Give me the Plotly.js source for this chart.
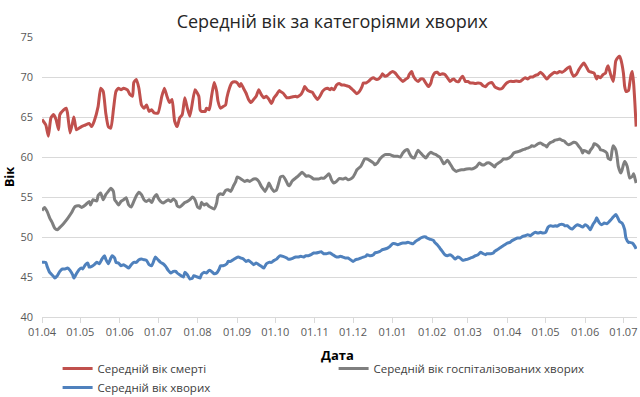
<!DOCTYPE html>
<html>
<head>
<meta charset="utf-8">
<script src="https://cdn.plot.ly/plotly-3.0.1.min.js"></script>
<style>html,body{margin:0;padding:0;background:#fff;}#chart{width:640px;height:397px;}</style>
</head>
<body>
<div id="chart"></div>
<script>
// Day offsets are counted from the first date of the series
const startDate = '2020-04-01';

const seriesNames = ['Середній вік смерті', 'Середній вік госпіталізованих хворих', 'Середній вік хворих'];
const xTitle = 'Дата';
const yTitle = 'Вік';
const chartTitle = 'Середній вік за категоріями хворих';

const redDays = [0,3,5,7,9,11,13,14,17,19,20,22,24,25,27,29,31,34,37,39,41,44,46,48,50,52,54,56,58,60,62,64,67,69,71,72,74,76,78,80,82,84,86,88,91,94,96,98,100,102,104,106,108,110,112,114,116,120,123,124,125,128,129,131,132,133,135,137,138,140,142,144,145,147,149,151,153,155,156,158,160,162,164,166,168,170,172,174,176,178,180,182,184,186,187,189,192,193,196,199,200,203,205,206,208,210,212,214,216,218,220,222,224,226,227,229,231,233,235,237,239,241,243,245,247,249,251,252,254,256,258,260,262,264,266,267,269,271,273,275,277,279,281,283,285,287,288,290,291,293,295,297,299,301,303,305,306,308,310,312,314,316,318,320,322,323,325,327,328,330,332,334,336,338,340,342,344,346,348,349,351,353,355,357,359,361,363,365,367,370,372,375,377,379,381,383,385,387,389,391,393,395,396,398,401,402,404,406,408,410,412,414,415,417,419,421,423,425,427,429,431,433,435,436,438,440,442,443,444,446,448,449,450,452,453,454,456,457,458,460,461,462,463,464,465,466];
const redVals = [64.7,64.0,62.6,64.9,65.3,64.7,63.4,65.3,65.9,66.1,65.5,63.0,64.3,65.0,63.4,63.6,63.8,64.0,64.2,63.8,64.5,66.3,68.6,68.2,65.5,63.8,63.6,65.9,68.2,68.6,68.4,68.6,68.4,67.8,67.6,69.3,69.7,68.6,66.5,66.1,66.5,65.7,65.9,65.5,65.5,67.6,68.6,67.6,66.8,67.2,64.5,63.8,64.9,65.3,67.4,66.1,65.1,68.4,67.6,65.9,65.7,65.7,66.1,65.9,66.5,67.6,69.3,68.2,67.0,66.1,66.3,66.5,67.4,68.6,69.3,69.4,69.3,68.8,69.2,68.6,68.0,67.2,66.8,67.2,67.6,68.4,67.8,67.4,67.6,67.2,66.7,67.4,67.8,68.3,68.2,68.0,67.4,67.4,67.5,67.6,67.5,67.8,68.4,68.8,68.4,68.2,68.1,67.6,67.2,67.6,68.2,68.5,68.6,68.4,68.6,68.4,69.0,69.2,69.0,69.0,68.9,68.8,68.5,68.2,67.9,68.2,68.8,69.25,69.25,69.45,69.75,69.9,69.7,69.75,70.1,70.4,70.1,70.2,70.5,70.7,70.5,70.1,69.75,69.45,69.7,69.9,70.3,70.7,70.2,69.7,69.45,69.75,69.75,69.25,68.8,69.25,69.9,70.5,70.6,70.3,70.4,70.3,69.9,69.45,69.7,69.75,69.45,69.45,69.75,70.1,69.45,69.45,69.25,69.25,69.2,69.25,69.2,68.9,68.8,69.0,69.25,69.3,68.8,68.6,68.5,68.6,69.0,69.3,69.45,69.45,69.5,69.45,69.7,69.9,69.75,70.0,70.0,70.2,70.3,70.6,70.3,69.9,69.75,70.1,70.5,70.6,70.5,70.7,70.6,70.8,71.1,71.3,70.7,70.1,70.3,70.9,71.4,71.75,71.25,70.7,70.6,70.5,69.75,70.1,69.9,70.3,70.5,71.1,71.4,70.3,69.45,70.5,72.0,72.5,72.6,72.2,70.5,68.8,68.2,68.3,69.25,70.3,70.7,69.25,66.75,63.8];

const grayDays = [0,2,4,6,8,10,12,14,17,20,23,26,29,31,34,37,38,40,43,44,46,48,50,52,54,56,57,58,60,62,64,66,68,70,72,74,76,78,80,82,84,86,88,90,91,93,95,97,99,101,103,105,106,108,110,112,114,116,118,120,122,124,125,127,129,131,132,135,137,138,140,142,144,146,148,150,152,153,155,157,159,161,163,165,166,168,170,172,174,175,177,178,180,182,184,186,187,189,191,193,194,196,198,200,202,204,206,207,209,211,213,215,217,219,221,223,225,226,227,229,231,233,236,238,240,242,244,246,247,250,252,253,255,257,260,261,263,265,267,269,271,273,275,277,279,281,283,285,287,288,290,292,294,295,297,299,301,303,305,307,309,311,312,314,315,316,318,320,322,323,325,327,329,331,333,335,337,339,341,343,345,347,349,351,353,355,356,358,360,362,364,366,368,370,372,374,376,377,379,381,383,384,386,388,389,391,393,395,396,397,399,401,402,404,406,408,410,411,413,415,417,419,421,423,424,425,427,429,430,432,433,435,437,438,440,443,444,446,447,448,450,451,452,454,455,456,457,459,460,461,463,464,465,466];
const grayVals = [53.3,53.7,53.2,52.4,51.8,51.1,50.9,51.2,51.7,52.3,53.0,53.8,53.9,53.7,54.0,54.45,54.0,54.66,54.5,55.2,55.5,54.66,55.3,55.7,56.1,55.7,54.66,54.45,54.0,54.45,54.66,54.9,54.0,53.75,54.45,55.16,55.6,55.3,54.66,54.45,54.66,54.3,55.0,55.3,54.9,54.45,54.25,54.45,54.66,54.45,54.75,54.45,53.9,53.75,54.0,54.3,54.45,54.66,55.0,54.66,53.75,53.6,54.33,54.0,54.16,53.83,53.75,53.5,54.25,55.16,55.4,55.3,55.83,55.9,55.7,56.33,56.95,57.5,57.37,57.16,56.95,57.08,56.95,57.16,57.25,57.25,56.95,56.33,55.9,55.7,56.33,56.75,56.1,55.7,55.9,56.95,57.5,57.6,57.16,56.5,56.4,56.95,57.25,57.5,57.8,58.1,57.8,57.6,57.66,57.5,57.25,57.25,57.25,57.37,57.33,57.6,57.9,57.6,57.16,56.75,56.95,57.3,57.25,57.37,57.16,57.25,57.5,58.08,58.41,58.83,59.45,59.75,59.75,59.58,59.25,59.03,59.25,59.75,60.08,60.3,60.3,60.3,60.16,60.08,60.08,60.0,60.5,60.83,60.91,60.5,60.0,59.87,60.58,60.83,60.5,60.16,59.87,60.3,60.58,60.41,60.3,60.08,60.0,59.45,59.16,59.25,59.58,59.16,58.62,58.41,58.2,58.33,58.41,58.41,58.5,58.54,58.5,58.62,58.83,59.25,59.03,59.03,59.25,59.25,59.03,58.74,59.03,59.25,59.45,59.75,59.75,59.87,60.08,60.5,60.62,60.7,60.83,60.91,61.0,61.12,61.24,61.41,61.33,61.54,61.66,61.75,61.54,61.41,61.24,61.54,61.83,61.95,62.08,62.16,62.24,62.08,61.95,61.75,61.54,61.66,61.83,61.75,61.33,60.91,60.5,60.83,60.7,60.5,60.83,61.24,61.66,61.54,61.24,60.91,60.83,60.5,59.87,59.66,60.7,61.41,60.91,60.08,58.83,58.0,58.41,59.03,59.45,58.83,58.0,57.37,57.58,57.91,57.37,56.74];

const blueDays = [0,3,4,6,9,10,12,14,16,18,20,22,24,25,27,29,31,32,34,36,37,39,41,43,45,47,49,50,52,54,55,57,58,60,62,64,66,68,70,72,74,76,78,80,82,84,86,88,89,91,93,95,97,99,101,103,105,106,108,111,112,114,116,118,119,122,124,125,127,129,131,133,135,137,139,140,142,145,146,148,150,152,154,156,158,160,162,164,166,168,170,172,174,176,178,180,182,184,186,187,189,192,193,195,197,199,201,203,205,207,209,211,213,215,217,219,221,223,225,226,228,230,232,234,236,238,240,242,244,246,248,250,252,254,255,257,260,261,263,265,267,269,271,273,275,277,279,281,283,285,287,289,291,293,295,297,299,301,302,304,307,308,310,312,314,316,318,320,322,324,326,328,330,332,334,336,338,340,342,344,346,348,349,352,354,355,357,359,361,363,365,367,369,371,373,375,377,379,381,383,385,387,389,391,393,395,396,397,399,401,403,404,406,409,410,412,414,416,418,420,422,424,426,428,430,432,434,435,437,439,441,443,445,447,448,450,451,453,455,457,458,460,461,463,465,466];
const blueVals = [46.83,46.83,46.33,45.58,45.08,44.87,45.16,45.7,46.0,46.0,46.12,45.83,45.29,44.87,45.41,45.91,46.12,46.0,46.54,46.74,46.24,46.33,46.54,46.83,46.66,47.24,47.66,47.24,46.66,47.37,47.66,47.37,46.83,46.74,46.41,46.54,46.33,46.12,46.54,46.83,46.83,47.16,47.24,47.16,47.08,46.54,46.41,47.16,47.49,47.16,46.83,46.66,46.33,45.83,45.5,45.7,45.7,45.5,45.29,45.0,45.58,45.29,44.74,44.87,45.16,45.0,44.87,45.29,45.58,45.5,45.83,45.7,45.41,45.5,46.0,46.41,46.41,46.66,46.95,46.95,47.16,47.37,47.49,47.37,47.24,46.95,47.08,46.83,46.54,46.74,46.54,46.33,46.12,46.66,46.83,46.83,47.08,47.24,47.58,47.66,47.58,47.37,47.24,47.24,47.37,47.49,47.49,47.58,47.49,47.66,47.66,47.79,48.0,48.0,48.08,48.16,47.91,47.91,48.0,48.0,47.79,47.58,47.49,47.58,47.49,47.37,47.37,47.16,46.95,47.16,47.24,47.37,47.49,47.58,47.79,47.66,47.79,48.0,48.08,48.2,48.41,48.5,48.62,48.83,49.16,49.16,49.04,49.16,49.24,49.24,49.33,49.24,49.16,49.45,49.66,49.87,50.0,50.0,49.87,49.74,49.58,49.33,49.04,48.62,48.2,47.79,47.66,47.79,47.58,47.24,47.49,47.37,47.08,47.16,47.24,47.37,47.49,47.66,47.79,48.08,47.91,47.79,47.91,47.91,48.0,48.2,48.41,48.62,48.83,49.04,49.24,49.33,49.58,49.74,49.87,49.87,50.08,50.16,50.29,50.16,50.41,50.58,50.49,50.58,50.49,50.58,50.91,51.24,51.41,51.33,51.41,51.33,51.54,51.54,51.41,51.41,51.12,51.0,51.33,51.54,51.41,51.24,51.54,51.33,50.91,51.54,52.0,52.4,51.8,51.54,51.74,51.66,51.95,52.3,52.5,52.8,52.6,51.95,51.74,50.91,49.87,49.33,49.33,49.24,48.83,48.5];

const monthTickFormat = '%d.%m';
const axisStart = '2020-04-01';
const axisEnd = '2021-07-11 16:00';

function toDates(days) {
  const t0 = Date.parse(startDate + 'T00:00:00Z');
  return days.map(d => new Date(t0 + d * 86400000).toISOString().slice(0, 10));
}

const FONT = 'Open Sans, Noto Sans, sans-serif';
const mk = (days, vals, name, color) => ({
  x: toDates(days), y: vals, name: name, type: 'scatter', mode: 'lines',
  line: {color: color, width: 3, shape: 'spline', smoothing: 0.5},
  hoverinfo: 'skip'
});

const data = [
  mk(redDays, redVals, seriesNames[0], '#c0504d'),
  mk(grayDays, grayVals, seriesNames[1], '#7f7f7f'),
  mk(blueDays, blueVals, seriesNames[2], '#4f81bd')
];

const layout = {
  width: 640, height: 397,
  margin: {l: 42, r: 3, t: 37, b: 80},
  paper_bgcolor: '#ffffff', plot_bgcolor: '#ffffff',
  font: {family: FONT, color: '#595959', size: 11},
  title: {text: chartTitle, font: {family: FONT, size: 18, color: '#262626'},
          x: 0.519, xref: 'container', xanchor: 'center', y: 0.945, yref: 'container', yanchor: 'middle'},
  xaxis: {
    type: 'date', range: [axisStart, axisEnd],
    tick0: axisStart, dtick: 'M1', tickformat: monthTickFormat,
    showgrid: false, zeroline: false,
    showline: true, linecolor: '#d9d9d9', linewidth: 1,
    ticks: 'outside', ticklen: 5, tickcolor: '#d9d9d9',
    tickfont: {family: FONT, size: 11, color: '#595959'}
  },
  yaxis: {
    range: [40, 75], dtick: 5, tick0: 40,
    showgrid: true, gridcolor: '#d9d9d9', gridwidth: 1,
    zeroline: false, showline: false, ticks: '',
    ticklabelstandoff: 8,
    tickfont: {family: FONT, size: 11, color: '#595959'},
    title: {text: yTitle, font: {family: FONT, size: 13, color: '#000000', weight: 'bold'}, standoff: 6}
  },
  annotations: [{
    text: '<b>' + xTitle + '</b>', xref: 'paper', yref: 'paper',
    x: 0.497, y: -0.136, xanchor: 'center', yanchor: 'middle', showarrow: false,
    font: {family: FONT, size: 13, color: '#000000'}
  }],
  showlegend: true,
  legend: {
    orientation: 'h', xref: 'container', yref: 'container',
    x: 0.09, xanchor: 'left', y: 0.108, yanchor: 'top',
    entrywidth: 231, entrywidthmode: 'pixels', itemwidth: 30,
    font: {family: FONT, size: 11.5, color: '#404040'},
    bgcolor: 'rgba(0,0,0,0)', borderwidth: 0, tracegroupgap: 0, traceorder: 'normal'
  }
};

Plotly.newPlot('chart', data, layout, {staticPlot: true, displayModeBar: false});
</script>
</body>
</html>
